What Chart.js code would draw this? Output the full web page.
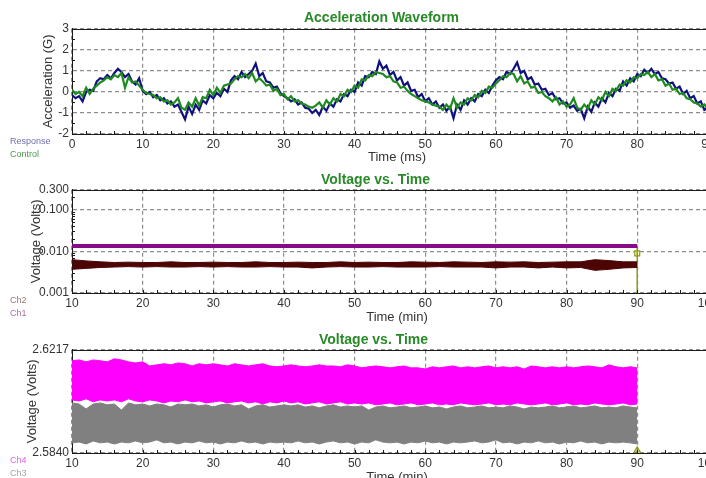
<!DOCTYPE html>
<html>
<head>
<meta charset="utf-8">
<title>Acceleration Waveform / Voltage vs. Time</title>
<script src="https://cdn.jsdelivr.net/npm/chart.js@4.4.1/dist/chart.umd.min.js"></script>
<style>
  html, body { margin: 0; padding: 0; background: #fff; }
  body { width: 706px; height: 478px; overflow: hidden; position: relative; }
  .panel { position: absolute; left: 0; }
  canvas { display: block; }
</style>
</head>
<body>
<div class="panel" style="top:0"><canvas id="accelChart" width="760" height="165"></canvas></div>
<div class="panel" style="top:165px"><canvas id="voltLogChart" width="760" height="160"></canvas></div>
<div class="panel" style="top:325px"><canvas id="voltLinChart" width="760" height="160"></canvas></div>
<script>
// ---- Acceleration waveform (G), one sample every 0.5 ms from 0 to 90 ms
const accelStepMs = 0.5;
const accelResponse = [
  -0.15, -0.3, -0.2, -0.45, 0.0, 0.1, 0.05, 0.5, 0.65, 0.6,
  0.8, 0.65, 0.9, 1.1, 0.95, 0.7, 0.85, 0.5, 0.35, 0.65,
  0.05, -0.1, 0.0, -0.25, -0.15, -0.4, -0.3, -0.55, -0.45, -0.7,
  -0.6, -0.95, -1.3, -0.7, -1.05, -0.6, -0.85, -0.4, -0.55, -0.15,
  -0.3, -0.05, -0.2, 0.15, 0.0, 0.55, 0.75, 0.6, 0.95, 0.7,
  0.85, 1.0, 1.35, 0.75, 0.9, 0.5, 0.45, 0.2, 0.25, -0.05,
  -0.2, -0.3, -0.45, -0.35, -0.6, -0.5, -0.75, -0.8, -1.0, -0.85,
  -1.1, -0.7, -0.9, -0.55, -0.7, -0.35, -0.45, -0.1, -0.2, 0.1,
  0.0, 0.45, 0.3, 0.75, 0.7, 0.95, 0.85, 1.45, 1.1, 1.25,
  0.8, 0.95, 0.55, 0.7, 0.3, 0.45, 0.05, 0.1, -0.25, -0.1,
  -0.45, -0.3, -0.6, -0.45, -0.75, -0.6, -0.9, -0.7, -1.25, -0.6,
  -0.85, -0.4, -0.6, -0.3, -0.45, -0.1, -0.2, 0.1, -0.05, 0.3,
  0.55, 0.7, 0.6, 0.95, 0.85, 1.1, 1.4, 0.9, 1.0, 0.6,
  0.7, 0.35, 0.4, 0.1, 0.15, -0.15, -0.05, -0.35, -0.3, -0.55,
  -0.5, -0.75, -0.65, -0.9, -0.8, -1.25, -0.7, -0.95, -0.5, -0.7,
  -0.3, -0.5, -0.05, -0.2, 0.15, 0.05, 0.5, 0.3, 0.65, 0.5,
  0.85, 0.75, 1.05, 0.9, 1.1, 0.85, 0.95, 0.65, 0.6, 0.4,
  0.45, 0.15, 0.25, -0.1, 0.05, -0.3, -0.2, -0.55, -0.45, -0.85,
  -0.75
];
const accelControl = [
  0.1, -0.1, 0.0, -0.2, 0.2, -0.1, 0.15, 0.3, 0.45, 0.55,
  0.7, 0.6, 0.8, 0.7, 0.9, 0.2, 0.7, 0.45, 0.5, 0.3,
  0.1, -0.05, -0.1, -0.15, -0.3, -0.25, -0.45, -0.4, -0.6, -0.5,
  -0.3, -0.75, -0.85, -0.5, -0.7, -0.3, -0.65, -0.25, -0.3, 0.1,
  -0.15, 0.2, -0.05, 0.3, 0.35, 0.4, 0.6, 0.75, 0.7, 0.85,
  0.65, 0.9, 0.5, 0.65, 0.5, 0.3, 0.35, 0.05, 0.15, -0.15,
  -0.1, -0.35, -0.2, -0.45, -0.4, -0.55, -0.6, -0.7, -0.75, -0.65,
  -0.5, -0.75, -0.4, -0.6, -0.3, -0.45, -0.1, -0.2, 0.1, 0.0,
  0.3, 0.2, 0.6, 0.55, 0.8, 0.75, 0.95, 0.9, 0.85, 0.7,
  0.75, 0.5, 0.45, 0.2, 0.25, 0.05, -0.1, -0.2, -0.3, -0.4,
  -0.45, -0.5, -0.6, -0.65, -0.7, -0.85, -0.6, -0.8, -0.3, -0.75,
  -0.5, -0.6, -0.3, -0.4, -0.15, -0.25, 0.05, -0.05, 0.25, 0.2,
  0.4, 0.55, 0.75, 0.7, 0.9, 0.85, 0.5, 0.75, 0.4, 0.5,
  0.2, 0.25, -0.05, 0.0, -0.2, -0.3, -0.45, -0.25, -0.6, -0.45,
  -0.7, -0.6, -0.3, -0.75, -0.85, -0.6, -0.8, -0.4, -0.6, -0.25,
  -0.4, 0.0, -0.2, 0.15, 0.05, 0.35, 0.3, 0.55, 0.45, 0.7,
  0.65, 0.85, 0.8, 0.95, 0.7, 0.85, 0.55, 0.6, 0.3, 0.4,
  0.1, 0.15, -0.1, -0.05, -0.3, -0.35, -0.5, -0.55, -0.7, -0.6,
  -0.8
];
const accelTicksX = [0, 10, 20, 30, 40, 50, 60, 70, 80, 90];
const accelTicksY = [-2, -1, 0, 1, 2, 3];

// ---- Voltage vs. Time, log axis (Ch1 level, Ch2 min/max every 2 min)
const ch1Minutes = [10, 90];
const ch1Volts = [0.0135, 0.0135];
const ch2Minutes = [10, 12, 14, 16, 18, 20, 22, 24, 26, 28, 30, 32, 34, 36, 38, 40, 42, 44, 46, 48,
  50, 52, 54, 56, 58, 60, 62, 64, 66, 68, 70, 72, 74, 76, 78, 80, 82, 84, 86, 88, 90];
const ch2Upper = [0.0063, 0.0059, 0.0056, 0.0054, 0.0055, 0.0054, 0.0054, 0.0056, 0.0054, 0.0054,
  0.0055, 0.0054, 0.0054, 0.0056, 0.0054, 0.0054, 0.0055, 0.0054, 0.0054, 0.0056,
  0.0054, 0.0055, 0.0054, 0.0054, 0.0056, 0.0055, 0.0054, 0.0056, 0.0055, 0.0054,
  0.0056, 0.0055, 0.0056, 0.0054, 0.0055, 0.0056, 0.0056, 0.0063, 0.0060, 0.0056, 0.0056];
const ch2Lower = [0.0037, 0.0039, 0.0041, 0.0042, 0.0043, 0.0042, 0.0043, 0.0042, 0.0042, 0.0043,
  0.0042, 0.0043, 0.0042, 0.0042, 0.0043, 0.0042, 0.0042, 0.0040, 0.0042, 0.0043,
  0.0042, 0.0042, 0.0043, 0.0042, 0.0042, 0.0042, 0.0043, 0.0042, 0.0042, 0.0042,
  0.0040, 0.0042, 0.0042, 0.0040, 0.0042, 0.0040, 0.0041, 0.0035, 0.0037, 0.0040, 0.0041];
const cursorMinute = 90;
const logCursorVolts = [0.0135, 0.001];
const logCursorMark = 0.0089;
const logTicksY = [0.001, 0.01, 0.1, 0.3];
const minuteTicks = [10, 20, 30, 40, 50, 60, 70, 80, 90, 100];

// ---- Voltage vs. Time, linear axis (Ch3 / Ch4 min/max every minute)
const ch34Minutes = [10, 11, 12, 13, 14, 15, 16, 17, 18, 19, 20, 21, 22, 23, 24, 25, 26, 27, 28, 29,
  30, 31, 32, 33, 34, 35, 36, 37, 38, 39, 40, 41, 42, 43, 44, 45, 46, 47, 48, 49,
  50, 51, 52, 53, 54, 55, 56, 57, 58, 59, 60, 61, 62, 63, 64, 65, 66, 67, 68, 69,
  70, 71, 72, 73, 74, 75, 76, 77, 78, 79, 80, 81, 82, 83, 84, 85, 86, 87, 88, 89, 90];
const ch4Upper = [
  2.6177, 2.6180, 2.6173, 2.6180, 2.6177, 2.6173, 2.6184, 2.6180, 2.6173, 2.6169,
  2.6173, 2.6158, 2.6162, 2.6166, 2.6162, 2.6169, 2.6166, 2.6158, 2.6166, 2.6162,
  2.6166, 2.6162, 2.6158, 2.6166, 2.6162, 2.6158, 2.6162, 2.6166, 2.6158, 2.6155,
  2.6158, 2.6162, 2.6158, 2.6155, 2.6158, 2.6162, 2.6158, 2.6158, 2.6155, 2.6162,
  2.6158, 2.6151, 2.6155, 2.6158, 2.6155, 2.6151, 2.6155, 2.6158, 2.6151, 2.6151,
  2.6147, 2.6155, 2.6151, 2.6155, 2.6158, 2.6151, 2.6155, 2.6151, 2.6155, 2.6158,
  2.6151, 2.6155, 2.6151, 2.6155, 2.6147, 2.6158, 2.6155, 2.6151, 2.6155, 2.6151,
  2.6155, 2.6151, 2.6155, 2.6158, 2.6155, 2.6151, 2.6162, 2.6155, 2.6151, 2.6155,
  2.6151];
const ch4Lower = [
  2.6034, 2.6030, 2.6038, 2.6027, 2.6034, 2.6030, 2.6034, 2.6027, 2.6038, 2.6030,
  2.6027, 2.6034, 2.6030, 2.6023, 2.6030, 2.6027, 2.6034, 2.6027, 2.6030, 2.6023,
  2.6027, 2.6030, 2.6023, 2.6027, 2.6030, 2.6023, 2.6027, 2.6019, 2.6027, 2.6023,
  2.6030, 2.6023, 2.6027, 2.6019, 2.6023, 2.6027, 2.6019, 2.6023, 2.6027, 2.6019,
  2.6023, 2.6019, 2.6023, 2.6016, 2.6019, 2.6023, 2.6016, 2.6019, 2.6023, 2.6016,
  2.6019, 2.6023, 2.6016, 2.6019, 2.6016, 2.6023, 2.6019, 2.6016, 2.6019, 2.6023,
  2.6016, 2.6019, 2.6016, 2.6023, 2.6019, 2.6016, 2.6019, 2.6023, 2.6016, 2.6019,
  2.6023, 2.6016, 2.6019, 2.6016, 2.6023, 2.6019, 2.6016, 2.6019, 2.6023, 2.6016,
  2.6019];
const ch3Upper = [
  2.6023, 2.6019, 2.6001, 2.6019, 2.6023, 2.6016, 2.6019, 2.5997, 2.6023, 2.6016,
  2.6019, 2.6012, 2.6019, 2.6016, 2.6008, 2.6019, 2.6016, 2.6019, 2.6012, 2.6016,
  2.6008, 2.6016, 2.6019, 2.6012, 2.6016, 2.6001, 2.6012, 2.6016, 2.6008, 2.6012,
  2.6016, 2.6012, 2.6016, 2.6008, 2.6012, 2.6005, 2.6012, 2.6016, 2.6008, 2.6012,
  2.6008, 2.6012, 2.5997, 2.6008, 2.6012, 2.6005, 2.6008, 2.6012, 2.6005, 2.6008,
  2.6012, 2.6005, 2.6008, 2.6001, 2.6008, 2.6012, 2.6005, 2.6008, 2.6012, 2.6005,
  2.6008, 2.6005, 2.6012, 2.6008, 2.6001, 2.6008, 2.6005, 2.6008, 2.6012, 2.6005,
  2.6008, 2.6012, 2.6005, 2.6008, 2.6012, 2.6005, 2.6008, 2.6005, 2.6012, 2.6008,
  2.6005];
const ch3Lower = [
  2.5877, 2.5880, 2.5873, 2.5884, 2.5877, 2.5880, 2.5873, 2.5880, 2.5877, 2.5884,
  2.5877, 2.5880, 2.5888, 2.5877, 2.5880, 2.5873, 2.5880, 2.5877, 2.5884, 2.5877,
  2.5880, 2.5873, 2.5880, 2.5877, 2.5884, 2.5877, 2.5880, 2.5873, 2.5880, 2.5877,
  2.5880, 2.5877, 2.5884, 2.5877, 2.5880, 2.5873, 2.5880, 2.5884, 2.5877, 2.5880,
  2.5873, 2.5880, 2.5877, 2.5888, 2.5880, 2.5877, 2.5880, 2.5873, 2.5880, 2.5877,
  2.5884, 2.5877, 2.5880, 2.5873, 2.5880, 2.5877, 2.5880, 2.5884, 2.5877, 2.5880,
  2.5888, 2.5877, 2.5880, 2.5873, 2.5880, 2.5877, 2.5884, 2.5877, 2.5880, 2.5873,
  2.5880, 2.5877, 2.5884, 2.5877, 2.5880, 2.5873, 2.5880, 2.5877, 2.5880, 2.5877,
  2.5873];
const linCursorVolts = [2.5862, 2.5840];
const linCursorMark = 2.5850;
const linTicksY = [2.5840, 2.6217];

// ---- shared styling
const GRID = '#8e8e8e';
const AXIS = '#1a1a1a';
const TEXT = '#333';
const TITLE_GREEN = '#2a8a2a';
const OLIVE = '#8f9a1c';

Chart.defaults.font.family = "'Liberation Sans', Arial, sans-serif";

function range(start, end, step) {
  const out = [];
  for (let v = start; v <= end + 1e-9; v += step) out.push(+v.toFixed(6));
  return out;
}

function points(xs, ys) {
  return ys.map((y, i) => ({ x: xs[i], y: y }));
}

// frame top line, inward minor ticks and the small legend text under the y axis
const panelExtras = {
  id: 'panelExtras',
  afterDraw(chart, args, opts) {
    const { ctx, chartArea: a, scales } = chart;
    const top = Math.round(a.top) + 0.5;
    const bottom = Math.round(a.bottom);
    const left = Math.round(a.left);
    ctx.save();
    ctx.strokeStyle = AXIS;
    ctx.lineWidth = 1;
    ctx.beginPath();
    ctx.moveTo(left, top);
    ctx.lineTo(a.right, top);
    (opts.xMinor || []).forEach(v => {
      const px = Math.round(scales.x.getPixelForValue(v)) + 0.5;
      ctx.moveTo(px, bottom);
      ctx.lineTo(px, bottom - 3);
    });
    (opts.yMinor || []).forEach(v => {
      const py = Math.round(scales.y.getPixelForValue(v)) + 0.5;
      ctx.moveTo(left, py);
      ctx.lineTo(left + 3, py);
    });
    ctx.stroke();

    ctx.font = "9px 'Liberation Sans', Arial, sans-serif";
    ctx.textBaseline = 'middle';
    (opts.legend || []).forEach((item, i) => {
      ctx.fillStyle = item.color;
      ctx.fillText(item.text, 10, a.bottom + 8 + i * 12.5);
    });
    ctx.restore();
  }
};

function xScale(min, max, ticks, title, height) {
  return {
    type: 'linear',
    min: min,
    max: max,
    afterBuildTicks: s => { s.ticks = ticks.map(v => ({ value: v })); },
    afterFit: s => { s.height = height; },
    grid: { color: GRID, lineWidth: 1.2, drawTicks: false },
    border: { display: true, color: AXIS, width: 1, dash: [4, 3] },
    ticks: { color: TEXT, font: { size: 12 }, padding: 3, maxRotation: 0, autoSkip: false },
    title: { display: true, text: title, color: TEXT, font: { size: 13 }, padding: { top: 0, bottom: 0 } }
  };
}

function yScale(type, min, max, ticks, title, width, format) {
  return {
    type: type,
    min: min,
    max: max,
    afterBuildTicks: s => { s.ticks = ticks.map(v => ({ value: v })); },
    afterFit: s => { s.width = width; },
    grid: { color: GRID, lineWidth: 1.2, drawTicks: false },
    border: { display: true, color: AXIS, width: 1, dash: [4, 3] },
    ticks: { color: TEXT, font: { size: 12 }, padding: 3, autoSkip: false, callback: format },
    title: { display: true, text: title, color: TEXT, font: { size: 13 }, padding: { top: 0, bottom: 0 } }
  };
}

function baseOptions(title, titlePad, padLeft) {
  return {
    responsive: false,
    animation: false,
    events: [],
    layout: { padding: { left: padLeft, right: 38, top: 0, bottom: 0 } },
    plugins: {
      legend: { display: false },
      tooltip: { enabled: false },
      title: {
        display: true,
        text: title,
        color: TITLE_GREEN,
        font: { size: 14, weight: 'bold' },
        padding: titlePad
      }
    },
    elements: { point: { radius: 0 }, line: { tension: 0 } }
  };
}

// ---- chart 1: acceleration
const accelTimes = accelResponse.map((_, i) => i * accelStepMs);
const accelOptions = baseOptions('Acceleration Waveform', { top: 10, bottom: 2 }, 41);
accelOptions.scales = {
  x: xScale(0, 92, accelTicksX, 'Time (ms)', 31),
  y: yScale('linear', -2, 3, accelTicksY, 'Acceleration (G)', 31, v => v)
};
accelOptions.plugins.panelExtras = {
  xMinor: range(0, 92, 2),
  yMinor: range(-1.5, 2.5, 1),
  legend: [{ text: 'Response', color: '#6f6fb0' }, { text: 'Control', color: '#4a9a4a' }]
};
new Chart(document.getElementById('accelChart'), {
  type: 'line',
  data: {
    datasets: [
      { label: 'Control', data: points(accelTimes, accelControl), borderColor: '#1f8a1f', borderWidth: 2.2 },
      { label: 'Response', data: points(accelTimes, accelResponse), borderColor: '#10107f', borderWidth: 2.2 }
    ]
  },
  options: accelOptions,
  plugins: [panelExtras]
});

// ---- chart 2: voltage, log axis
const logMinor = [];
[0.001, 0.01, 0.1].forEach(decade => {
  for (let k = 2; k <= 9; k++) if (decade * k < 0.3) logMinor.push(decade * k);
});
const logOptions = baseOptions('Voltage vs. Time', { top: 7, bottom: 1 }, 29);
logOptions.scales = {
  x: xScale(10, 102, minuteTicks, 'Time (min)', 32),
  y: yScale('logarithmic', 0.001, 0.3, logTicksY, 'Voltage (Volts)', 43, v => Number(v).toFixed(3))
};
logOptions.plugins.panelExtras = {
  xMinor: range(10, 102, 2),
  yMinor: logMinor,
  legend: [{ text: 'Ch2', color: '#9a7676' }, { text: 'Ch1', color: '#a472a8' }]
};
new Chart(document.getElementById('voltLogChart'), {
  type: 'line',
  data: {
    datasets: [
      { label: 'Ch2', data: points(ch2Minutes, ch2Upper), borderColor: '#4d0404', backgroundColor: '#4d0404', borderWidth: 1, fill: '+1' },
      { label: 'Ch2 min', data: points(ch2Minutes, ch2Lower), borderColor: '#4d0404', borderWidth: 1, fill: false },
      { label: 'Ch1', data: points(ch1Minutes, ch1Volts), borderColor: '#870a87', borderWidth: 4, fill: false },
      { label: 'cursor', data: points([cursorMinute, cursorMinute], logCursorVolts), borderColor: OLIVE, borderWidth: 1.5, fill: false },
      { label: 'cursor mark', data: [{ x: cursorMinute, y: logCursorMark }], showLine: false, pointStyle: 'rect', pointRadius: 3.5, pointBackgroundColor: '#ffffc8', pointBorderColor: OLIVE, pointBorderWidth: 1.2 }
    ]
  },
  options: logOptions,
  plugins: [panelExtras]
});

// ---- chart 3: voltage, linear axis
const linOptions = baseOptions('Voltage vs. Time', { top: 7, bottom: 1 }, 25);
linOptions.scales = {
  x: xScale(10, 102, minuteTicks, 'Time (min)', 32),
  y: yScale('linear', 2.5840, 2.6217, linTicksY, 'Voltage (Volts)', 47, v => Number(v).toFixed(4))
};
linOptions.plugins.panelExtras = {
  xMinor: range(10, 102, 2),
  legend: [{ text: 'Ch4', color: '#e462e4' }, { text: 'Ch3', color: '#a4a4a4' }]
};
new Chart(document.getElementById('voltLinChart'), {
  type: 'line',
  data: {
    datasets: [
      { label: 'Ch3', data: points(ch34Minutes, ch3Upper), borderColor: '#808080', backgroundColor: '#808080', borderWidth: 1, fill: '+1' },
      { label: 'Ch3 min', data: points(ch34Minutes, ch3Lower), borderColor: '#808080', borderWidth: 1, fill: false },
      { label: 'Ch4', data: points(ch34Minutes, ch4Upper), borderColor: '#ff00ff', backgroundColor: '#ff00ff', borderWidth: 1, fill: '+1' },
      { label: 'Ch4 min', data: points(ch34Minutes, ch4Lower), borderColor: '#ff00ff', borderWidth: 1, fill: false },
      { label: 'cursor', data: points([cursorMinute, cursorMinute], linCursorVolts), borderColor: OLIVE, borderWidth: 1.5, fill: false },
      { label: 'cursor mark', data: [{ x: cursorMinute, y: linCursorMark }], showLine: false, pointStyle: 'triangle', pointRadius: 3.5, pointBackgroundColor: 'rgba(0,0,0,0)', pointBorderColor: OLIVE, pointBorderWidth: 1.2 }
    ]
  },
  options: linOptions,
  plugins: [panelExtras]
});
</script>
</body>
</html>
